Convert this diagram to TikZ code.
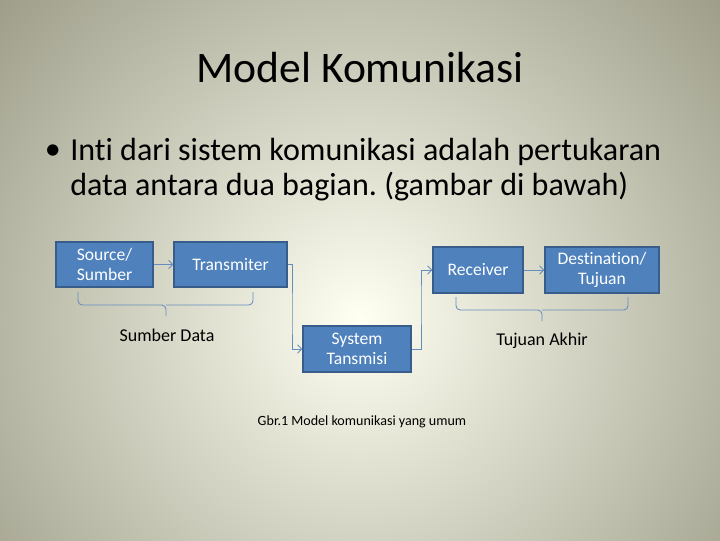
\documentclass[tikz,border=0pt]{standalone}
\usepackage{fontspec}
\setmainfont[Ligatures=NoCommon]{Carlito}
\usetikzlibrary{arrows.meta}
\frenchspacing
\definecolor{boxblue}{RGB}{79,129,189}
\definecolor{boxedge}{RGB}{56,93,138}
\definecolor{linkblue}{RGB}{100,140,190}
\definecolor{bgouter}{RGB}{150,150,130}
\definecolor{bginner}{RGB}{255,255,242}
\begin{document}
\begin{tikzpicture}[
  x=0.025cm, y=-0.025cm,
  block/.style={rectangle, draw=boxedge, thick, fill=boxblue, text=white, font=\fontsize{12.5}{14}\selectfont, align=center, inner sep=0pt},
  link/.style={-{Straight Barb[length=3pt]}, draw=linkblue, semithick},
  brace/.style={draw=linkblue, semithick, rounded corners=3pt}
]

% background
\begin{scope}
  \clip (0,0) rectangle (720,540);
  \shade[inner color=bginner, outer color=bgouter] (360,320) circle (520);
\end{scope}
\useasboundingbox (0,0) rectangle (720,540);

% title and bullet
\node (title) at (360,68) {\fontsize{31}{36}\selectfont Model Komunikasi};
\node[anchor=west] (dot) at (40,152) {\fontsize{22.8}{26}\selectfont •};
\node[anchor=west, inner sep=0pt] (line1) at (70,152) {\fontsize{22.8}{26}\selectfont Inti dari sistem komunikasi adalah pertukaran};
\node[anchor=west, inner sep=0pt] (line2) at (70,187) {\fontsize{22.8}{26}\selectfont data antara dua bagian. (gambar di bawah)};

% blocks
\node[block, minimum width=2.425cm, minimum height=1.125cm] (src) at (104.5,264.5) {Source/\\Sumber};
\node[block, minimum width=2.825cm, minimum height=1.125cm] (trans) at (230.5,264.5) {Transmiter};
\node[block, minimum width=2.7cm, minimum height=1.15cm] (sys) at (357,349) {System\\Tansmisi};
\node[block, minimum width=2.25cm, minimum height=1.15cm] (recv) at (478,270) {Receiver};
\node[block, minimum width=2.85cm, minimum height=1.15cm] (dest) at (602,270) {Destination/\\Tujuan};

% connectors
\draw[link] (src) -- (trans);
\draw[link] (trans.east) -| (292,320) |- (sys.west);
\draw[link] (sys.east) -| (421,300) |- (recv.west);
\draw[link] (recv) -- (dest);

% braces
\draw[brace] (78,292) -- (78,305) -- (166,305) -- (166,316);
\draw[brace] (166,305) -- (253,305) -- (253,292);
\draw[brace] (456,297) -- (456,310) -- (542,310) -- (542,321);
\draw[brace] (542,310) -- (628,310) -- (628,297);
\node[font=\fontsize{12.8}{15}\selectfont] (sdata) at (167,335) {Sumber Data};
\node[font=\fontsize{12.8}{15}\selectfont] (tujuan) at (542,341) {Tujuan Akhir};

% caption
\node[font=\fontsize{10}{12}\selectfont] (caption) at (362,422) {Gbr.1 Model komunikasi yang umum};

\end{tikzpicture}
\end{document}
